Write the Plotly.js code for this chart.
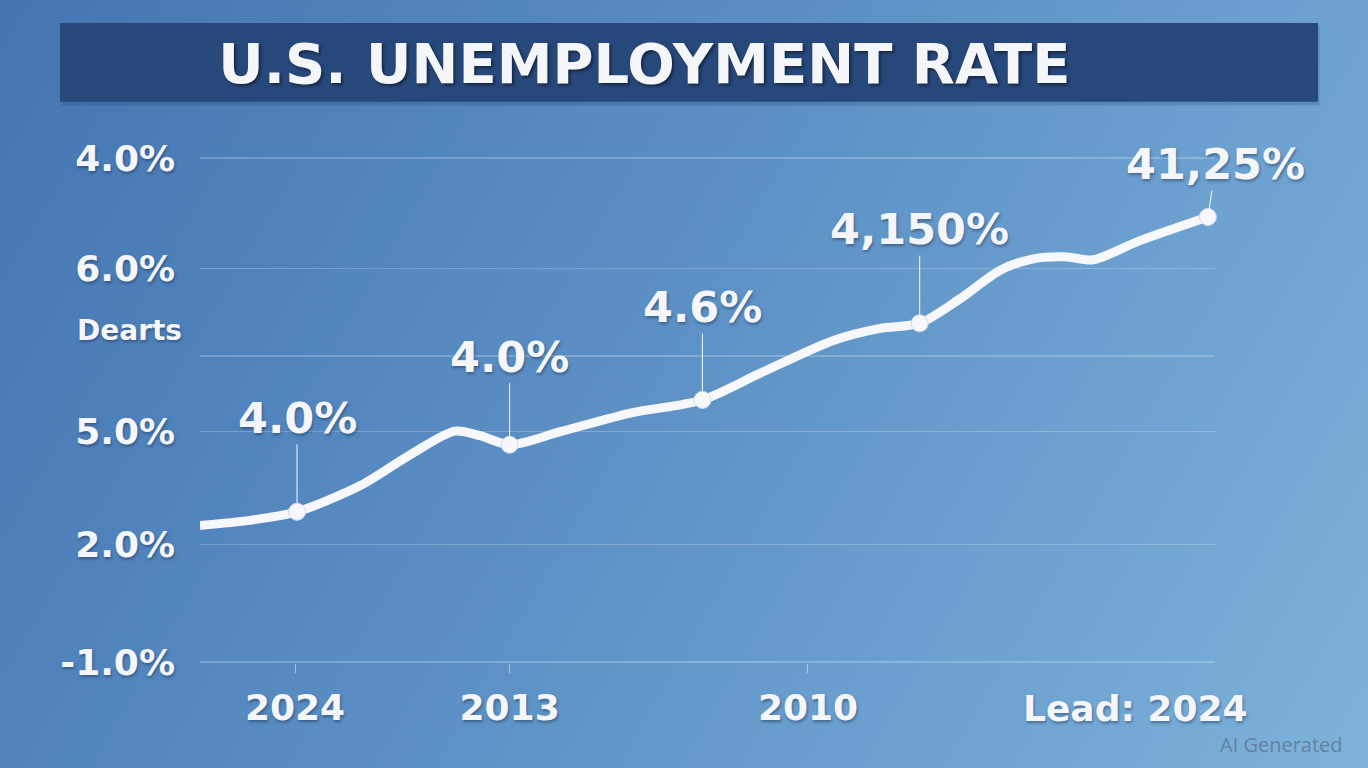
<!DOCTYPE html>
<html>
<head>
<meta charset="utf-8">
<script src="https://cdn.plot.ly/plotly-3.0.1.min.js"></script>
<style>
  html, body { margin: 0; padding: 0; width: 1368px; height: 768px; overflow: hidden; }
  body { background: linear-gradient(120deg, #4475b1 0%, #5589c0 35%, #6a9fcf 70%, #7db2da 100%); }
  #chart { width: 1368px; height: 768px; }
</style>
</head>
<body>
<div id="chart"></div>
<script>
// ---- data (axis units: x = position along the period, y = rate position) ----
const lineX = [0, 4.9, 9.56, 15.8, 20.7, 25.1, 27.6, 30.5, 35.5, 42.4, 49.5, 55.2, 62.4, 67.0, 70.9, 74.9, 78.8, 82.1, 85.2, 88.0, 92.6, 99.3];
const lineY = [2.71, 2.81, 2.98, 3.50, 4.11, 4.58, 4.49, 4.31, 4.57, 4.94, 5.20, 5.73, 6.38, 6.62, 6.72, 7.21, 7.77, 8.00, 8.04, 7.98, 8.36, 8.83];

const markerX = [9.56, 30.5, 49.5, 70.9, 99.3];
const markerY = [2.98, 4.31, 5.20, 6.72, 8.83];
const markerLabels = ["4.0%", "4.0%", "4.6%", "4,150%", "41,25%"];

const yTickVals = [10, 7.81, 6.07, 4.57, 2.33, 0];
const yTickText = ["4.0%", "6.0%", "", "5.0%", "2.0%", "-1.0%"];
const yExtraLabel = "Dearts";
const yExtraPos = 6.58;

const xTickVals = [9.36, 30.5, 59.9];
const xTickText = ["2024", "2013", "2010"];
const xExtraLabel = "Lead: 2024";
const xExtraPos = 92.2;

const titleText = "U.S. UNEMPLOYMENT RATE";
const footnote = "AI Generated";

// ---- styling ----
const FONT = "DejaVu Sans, sans-serif";
const WHITE = "#f4f6fa";
const SHADOW = "1px 2px 3px rgba(20,40,70,0.45)";

const traces = [
  {
    x: lineX, y: lineY, type: "scatter", mode: "lines",
    line: { color: "#f7f8fb", width: 9, shape: "spline", smoothing: 0.8 },
    hoverinfo: "skip", cliponaxis: false
  },
  {
    x: markerX, y: markerY, type: "scatter", mode: "markers",
    marker: { size: 17, color: "#f7f8fb", line: { color: "rgba(210,218,230,1)", width: 1 } },
    hoverinfo: "skip", cliponaxis: false
  }
];

const labelOffsets = [[0, -94], [0, -88], [0, -93], [0, -94], [8, -53]];
const annotations = markerLabels.map((t, i) => ({
  x: markerX[i], y: markerY[i], xref: "x", yref: "y",
  text: t, showarrow: true, arrowhead: 0, arrowwidth: 1.2,
  arrowcolor: "rgba(255,255,255,0.8)", ax: labelOffsets[i][0], ay: labelOffsets[i][1],
  standoff: 8,
  font: { family: FONT, size: 43, color: WHITE, weight: 700, shadow: SHADOW }
}));

annotations.push({
  x: -0.069, y: yExtraPos, xref: "paper", yref: "y", text: yExtraLabel, showarrow: false,
  xanchor: "center", yanchor: "middle",
  font: { family: FONT, size: 28, color: WHITE, weight: 700, shadow: SHADOW }
});
annotations.push({
  x: xExtraPos, y: -0.089, xref: "x", yref: "paper", text: xExtraLabel, showarrow: false,
  xanchor: "center", yanchor: "middle",
  font: { family: FONT, size: 36, color: WHITE, weight: 700, shadow: SHADOW }
});
annotations.push({
  x: 1.066, y: -0.162, xref: "paper", yref: "paper", text: footnote, showarrow: false,
  xanchor: "center", yanchor: "middle",
  font: { family: "Open Sans, sans-serif", size: 20, color: "rgba(95,120,150,0.85)" }
});

const layout = {
  width: 1368, height: 768,
  margin: { l: 200, r: 153, t: 157, b: 105 },
  paper_bgcolor: "rgba(0,0,0,0)", plot_bgcolor: "rgba(0,0,0,0)",
  showlegend: false,
  title: {
    text: titleText, x: 0.471, xanchor: "center", xref: "container",
    y: 0.918, yanchor: "middle", yref: "container",
    font: { family: FONT, size: 56, color: WHITE, weight: 700, shadow: "2px 2px 3px rgba(0,0,0,0.45)" }
  },
  shapes: [
    { type: "rect", xref: "paper", yref: "paper", x0: -0.136, x1: 1.103, y0: 1.102, y1: 1.258,
      fillcolor: "rgba(20,40,80,0.18)", line: { width: 0 }, layer: "below" },
    { type: "rect", xref: "paper", yref: "paper", x0: -0.138, x1: 1.1015, y0: 1.109, y1: 1.265,
      fillcolor: "#27487a", line: { width: 0 }, layer: "below" }
  ],
  xaxis: {
    range: [0, 100], showgrid: false, zeroline: false, showline: false,
    tickmode: "array", tickvals: xTickVals, ticktext: xTickText,
    ticks: "outside", ticklen: 9, tickwidth: 1, tickcolor: "rgba(255,255,255,0.45)",
    ticklabelstandoff: 4,
    tickfont: { family: FONT, size: 36, color: WHITE, weight: 700, shadow: SHADOW },
    fixedrange: true
  },
  yaxis: {
    range: [-0.02, 10.02], showgrid: true, gridcolor: "rgba(255,255,255,0.22)", gridwidth: 1.5,
    zeroline: false, showline: false,
    tickmode: "array", tickvals: yTickVals, ticktext: yTickText,
    ticks: "", ticklabelstandoff: 24,
    tickfont: { family: FONT, size: 36, color: WHITE, weight: 700, shadow: SHADOW },
    fixedrange: true
  },
  annotations: annotations
};

Plotly.newPlot("chart", traces, layout, { staticPlot: true, displayModeBar: false });
</script>
</body>
</html>
